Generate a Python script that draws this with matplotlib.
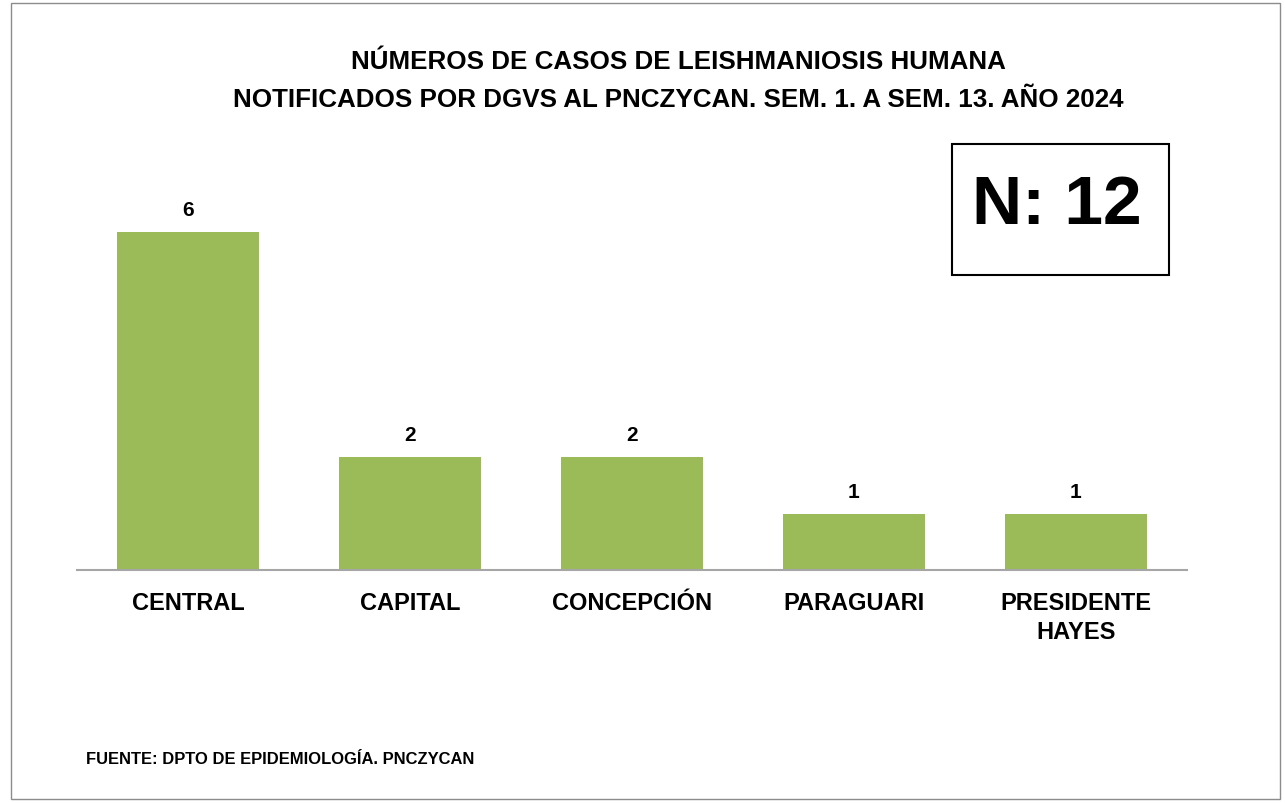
import matplotlib
matplotlib.use("Agg")
import matplotlib.pyplot as plt
from matplotlib.patches import Rectangle

departamentos = ["CENTRAL", "CAPITAL", "CONCEPCIÓN", "PARAGUARI", "PRESIDENTE\nHAYES"]
casos = [6, 2, 2, 1, 1]
total_label = "N: 12"
titulo = ("NÚMEROS DE CASOS DE LEISHMANIOSIS HUMANA\n"
          "NOTIFICADOS POR DGVS AL PNCZYCAN. SEM. 1. A SEM. 13. AÑO 2024")
fuente = "FUENTE: DPTO DE EPIDEMIOLOGÍA. PNCZYCAN"

arial = ["Liberation Sans", "DejaVu Sans"]

fig = plt.figure(figsize=(12.85, 8.04), dpi=100)
ax = fig.add_axes([0.0599, 0.2898, 0.8638, 0.4904])

x = range(len(departamentos))
bars = ax.bar(x, casos, width=0.64, color="#9BBB59")
for b, v in zip(bars, casos):
    ax.text(b.get_x() + b.get_width() / 2, v + 0.3, str(v), ha="center", va="baseline",
            fontsize=15, fontweight="bold", family=arial)

ax.set_xlim(-0.5, len(departamentos) - 0.5)
ax.set_ylim(0, 7)
ax.set_xticks(list(x))
ax.set_xticklabels(departamentos, fontsize=17, fontweight="bold", family=arial, linespacing=1.35)
ax.tick_params(axis="x", length=0, pad=15)
ax.set_yticks([])
for s in ["top", "right", "left"]:
    ax.spines[s].set_visible(False)
ax.spines["bottom"].set_color("#A6A6A6")
ax.spines["bottom"].set_linewidth(1.5)

fig.text(0.528, 1 - 81 / 804, titulo, ha="center", va="center", fontsize=18.7, fontweight="bold",
         family=arial, linespacing=1.7)

# N box
fig.patches.append(Rectangle((952 / 1285, 1 - 276 / 804), 217 / 1285, 131 / 804,
                             transform=fig.transFigure, fill=False, edgecolor="black",
                             linewidth=1.5))
fig.text(1057 / 1285, 1 - 224 / 804, total_label, ha="center", va="baseline", fontsize=50,
         fontweight="bold", family=arial)

fig.text(86 / 1285, 1 - 760 / 804, fuente, ha="left", va="center", fontsize=11.9,
         fontweight="bold", family=arial)

# outer border
fig.patches.append(Rectangle((11 / 1285, 4 / 804), 1269 / 1285, 796 / 804,
                             transform=fig.transFigure, fill=False, edgecolor="#8C8C8C",
                             linewidth=1))

fig.savefig("out.png", dpi=100)
